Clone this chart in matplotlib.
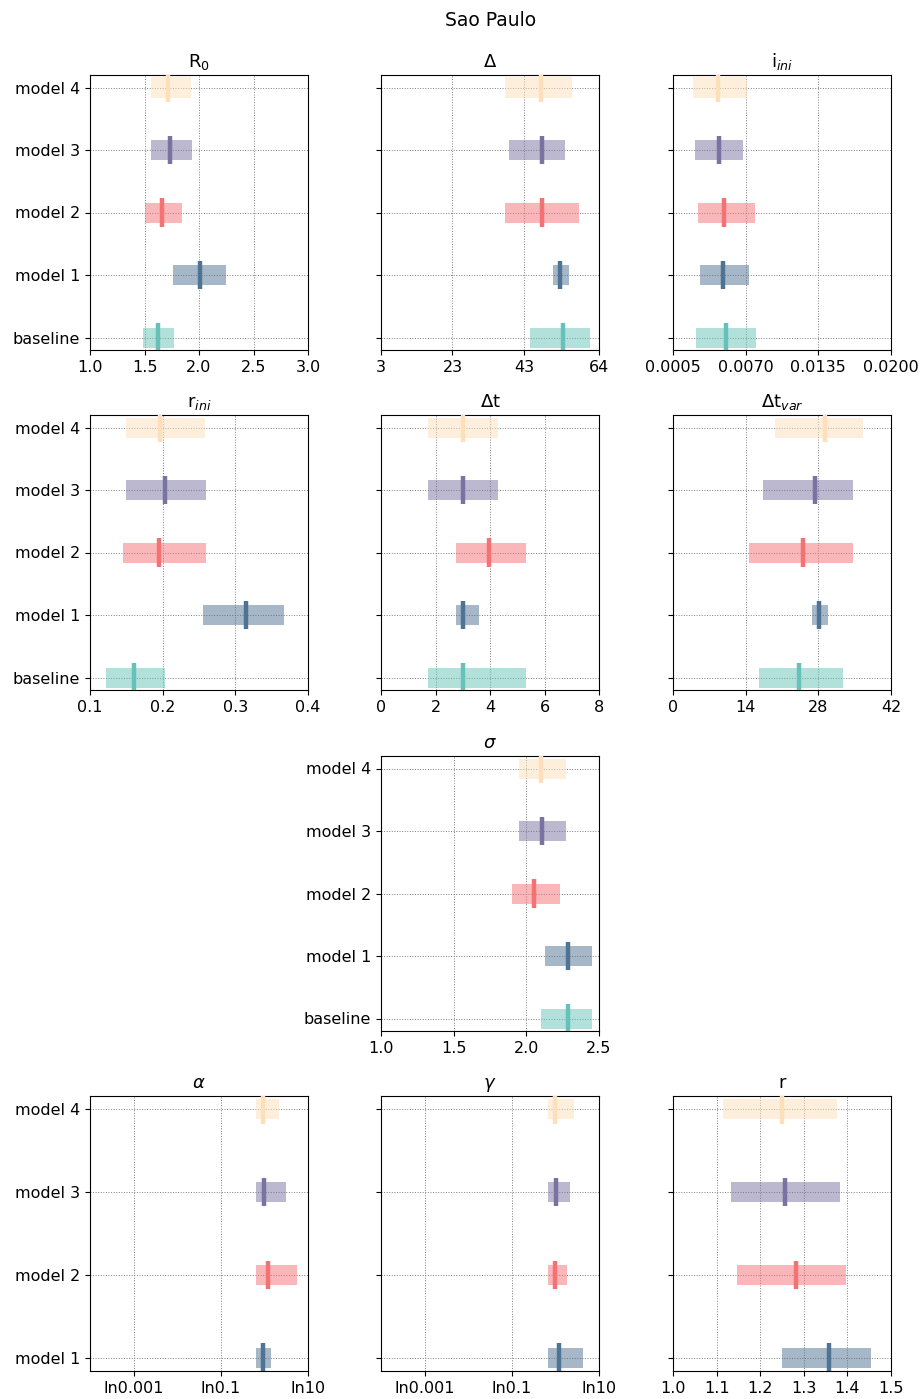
import matplotlib
matplotlib.use("Agg")
import matplotlib.pyplot as plt
import numpy as np

cats5 = ["baseline", "model 1", "model 2", "model 3", "model 4"]
cats4 = ["model 1", "model 2", "model 3", "model 4"]
colors = {"baseline": "#66c2b8", "model 1": "#4f7393", "model 2": "#f47174",
          "model 3": "#7873a0", "model 4": "#fde0bb"}

# (low, median, high) per category, order baseline, model1..4
R0 = [(1.49, 1.62, 1.77), (1.76, 2.01, 2.25), (1.50, 1.66, 1.84), (1.56, 1.73, 1.94), (1.56, 1.72, 1.93)]
Delta = [(44.8, 54, 61.5), (51, 53, 55.6), (37.8, 48, 58.4), (38.9, 48, 54.5), (37.8, 47.8, 56.5)]
i_ini = [(0.0026, 0.0052, 0.0079), (0.0029, 0.0050, 0.0073), (0.0027, 0.0051, 0.0078), (0.0025, 0.0046, 0.0068), (0.0023, 0.0045, 0.0071)]
r_ini = [(0.122, 0.160, 0.203), (0.255, 0.315, 0.367), (0.145, 0.195, 0.260), (0.150, 0.203, 0.260), (0.150, 0.196, 0.258)]
dt = [(1.72, 3.0, 5.33), (2.74, 3.0, 3.58), (2.74, 3.98, 5.33), (1.72, 3.0, 4.31), (1.72, 3.0, 4.31)]
dt_var = [(16.5, 24.2, 32.8), (26.7, 28.2, 29.9), (14.6, 25.1, 34.7), (17.3, 27.3, 34.7), (19.6, 29.2, 36.7)]
sigma = [(2.10, 2.29, 2.45), (2.13, 2.29, 2.45), (1.90, 2.05, 2.23), (1.95, 2.11, 2.27), (1.95, 2.10, 2.27)]
alpha = [(0.65, 0.95, 1.45), (0.65, 1.2, 5.6), (0.65, 1.0, 3.2), (0.65, 0.95, 2.2)]
gamma = [(0.68, 1.2, 4.4), (0.68, 1.0, 1.8), (0.68, 1.02, 2.2), (0.68, 1.0, 2.7)]
r = [(1.251, 1.358, 1.454), (1.146, 1.281, 1.397), (1.132, 1.258, 1.384), (1.114, 1.249, 1.377)]

W, H = 922, 1399
fig = plt.figure(figsize=(W/100, H/100), dpi=100)
fig.suptitle("Sao Paulo", x=491/W, y=1-20/H, fontsize=13.5, va="center")

cols = [90, 381, 673]
rows = [75, 415, 756, 1096]
aw, ah = 218, 275

def mkax(c, rr):
    return fig.add_axes([c/W, 1-(rr+ah)/H, aw/W, ah/H])

def draw(ax, data, cats, title, xlim, xticks, xtl=None, showy=True, log=False):
    n = len(cats)
    bh = 0.32 if n == 5 else 0.24
    for k, (cat, (lo, med, hi)) in enumerate(zip(cats, data)):
        c = colors[cat]
        ax.barh(k, hi-lo, left=lo, height=bh, color=c, alpha=0.5, zorder=2)
        ax.plot([med, med], [k-bh*0.72, k+bh*0.72], color=c, lw=3.2, zorder=3,
                solid_capstyle="butt")
    if log:
        ax.set_xscale("log")
    ax.set_xlim(*xlim)
    ax.set_xticks(xticks)
    if xtl is not None:
        ax.set_xticklabels(xtl)
    ax.minorticks_off()
    pad = 0.2 if n == 5 else 0.16
    ax.set_ylim(-pad, n-1+pad)
    ax.set_yticks(range(n))
    ax.set_yticklabels(cats if showy else [])
    ax.grid(True, ls=":", color="gray", lw=0.7, zorder=0)
    ax.set_axisbelow(True)
    ax.set_title(title, fontsize=13)
    ax.tick_params(labelsize=11.5)

draw(mkax(cols[0], rows[0]), R0, cats5, r"R$_0$", (1.0, 3.0), [1.0, 1.5, 2.0, 2.5, 3.0], ["1.0", "1.5", "2.0", "2.5", "3.0"])
draw(mkax(cols[1], rows[0]), Delta, cats5, r"$\Delta$", (3, 64), [3, 23, 43, 64], showy=False)
draw(mkax(cols[2], rows[0]), i_ini, cats5, r"i$_{ini}$", (0.0005, 0.02), [0.0005, 0.007, 0.0135, 0.02],
     ["0.0005", "0.0070", "0.0135", "0.0200"], showy=False)
draw(mkax(cols[0], rows[1]), r_ini, cats5, r"r$_{ini}$", (0.1, 0.4), [0.1, 0.2, 0.3, 0.4], ["0.1", "0.2", "0.3", "0.4"])
draw(mkax(cols[1], rows[1]), dt, cats5, r"$\Delta$t", (0, 8), [0, 2, 4, 6, 8], showy=False)
draw(mkax(cols[2], rows[1]), dt_var, cats5, r"$\Delta$t$_{var}$", (0, 42), [0, 14, 28, 42], showy=False)
draw(mkax(cols[1], rows[2]), sigma, cats5, r"$\sigma$", (1.0, 2.5), [1.0, 1.5, 2.0, 2.5], ["1.0", "1.5", "2.0", "2.5"])
lt = ["ln0.001", "ln0.1", "ln10"]
draw(mkax(cols[0], rows[3]), alpha, cats4, r"$\alpha$", (1e-4, 10), [1e-3, 1e-1, 10], lt, log=True)
draw(mkax(cols[1], rows[3]), gamma, cats4, r"$\gamma$", (1e-4, 10), [1e-3, 1e-1, 10], lt, showy=False, log=True)
draw(mkax(cols[2], rows[3]), r, cats4, "r", (1.0, 1.5), [1.0, 1.1, 1.2, 1.3, 1.4, 1.5],
     ["1.0", "1.1", "1.2", "1.3", "1.4", "1.5"], showy=False)

fig.savefig("out.png", dpi=100)
